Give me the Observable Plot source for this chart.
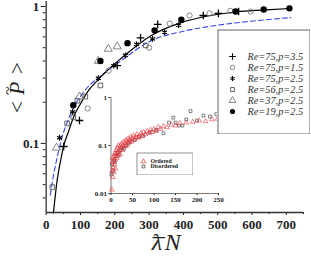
<!DOCTYPE html>
<html><head><meta charset="utf-8">
<script src="https://cdn.jsdelivr.net/npm/d3@7"></script>
<script src="https://cdn.jsdelivr.net/npm/@observablehq/plot@0.6"></script>
<style>
body{margin:0;background:#fff;}
#wrap{position:relative;width:311px;height:263px;overflow:hidden;}
#wrap svg{position:absolute;max-width:none;}
</style></head><body><div id="wrap"></div>
<script>
// ---------- main chart data: [lambdaN, <P>] ----------
const re75p35 = [[51,0.095],[97,0.147],[207,0.37],[275,0.59],[325,0.74],[458,0.86],[502,0.89],[561,0.92]];
const re75p15 = [[121,0.18],[182,0.34],[300,0.50],[360,0.75],[418,0.86],[476,0.89],[537,0.93],[596,0.92]];
const re75p25 = [[39,0.11],[77,0.17],[152,0.30],[197,0.37],[231,0.44],[263,0.53],[310,0.58],[345,0.65],[386,0.73]];
const re56p25 = [[18,0.048],[61,0.14],[79,0.155],[91,0.205],[114,0.22],[158,0.265],[290,0.52]];
const re37p25 = [[30,0.093],[97,0.22],[152,0.40],[181,0.49],[207,0.51]];
const re19p25 = [[79,0.19],[158,0.40],[237,0.54],[316,0.67],[394,0.80],[552,0.92],[634,0.95],[709,0.97]];
const fitSolid = [[21,0.031],[32,0.054],[42,0.075],[51,0.096],[66,0.124],[80,0.156],[100,0.195],[120,0.237],[149,0.288],[178,0.341],[217,0.415],[304,0.61],[391,0.76],[479,0.86],[566,0.92],[654,0.95],[709,0.967]];
const fitDashed = [[12,0.042],[22,0.06],[32,0.079],[46,0.111],[61,0.142],[80,0.183],[105,0.23],[129,0.27],[158,0.31],[217,0.40],[304,0.56],[400,0.66],[499,0.73],[596,0.78],[713,0.83]];
const xTicks = [0,100,200,300,400,500,600,700];
const xMinor = [50,150,250,350,450,550,650,750];
const yTicks = [0.1,1];
const yMinor = [0.04,0.05,0.06,0.07,0.08,0.09,0.2,0.3,0.4,0.5,0.6,0.7,0.8,0.9];
const legendLabels = ["Re=75,p=3.5","Re=75,p=1.5","Re=75,p=2.5","Re=56,p=2.5","Re=37,p=2.5","Re=19,p=2.5"];

// ---------- inset data ----------
const ordered = [[2,0.012],[3,0.03],[3,0.045],[4,0.022],[4,0.055],[5,0.035],[6,0.028],[6,0.048],[7,0.06],[8,0.04],[9,0.07],[10,0.05],[10,0.033],[11,0.065],[12,0.08],[13,0.055],[14,0.07],[15,0.09],[16,0.06],[17,0.1],[18,0.075],[20,0.085],[21,0.065],[22,0.1],[24,0.09],[25,0.11],[27,0.08],[28,0.1],[30,0.12],[32,0.095],[33,0.11],[35,0.13],[37,0.1],[38,0.12],[40,0.14],[42,0.115],[44,0.13],[46,0.15],[48,0.12],[50,0.14],[52,0.16],[55,0.135],[58,0.15],[60,0.17],[63,0.145],[66,0.16],[70,0.18],[73,0.155],[76,0.19],[80,0.17],[84,0.2],[88,0.18],[92,0.21],[96,0.19],[100,0.22],[105,0.2],[110,0.24],[115,0.22],[122,0.25],[130,0.24],[140,0.27],[150,0.26],[160,0.29],[175,0.3],[190,0.31],[205,0.33],[220,0.32],[235,0.35],[248,0.36]];
const disordered = [[1,0.025],[3,0.04],[5,0.03],[7,0.05],[9,0.045],[12,0.06],[15,0.07],[18,0.065],[22,0.08],[26,0.09],[30,0.085],[35,0.1],[40,0.11],[45,0.12],[55,0.13],[65,0.15],[75,0.16],[90,0.19],[105,0.21],[122,0.18],[135,0.3],[145,0.38],[150,0.3],[158,0.26],[166,0.26],[175,0.35],[185,0.52],[200,0.33],[215,0.42],[230,0.4],[245,0.45]];
const insetXTicks = [0,50,100,150,200,250];
const insetYTicks = [0.01,0.1,1];
const insetLabels = ["Ordered","Disordered"];

const SERIF = "Liberation Serif, Times New Roman, serif";
const X = d => d[0], Y = d => d[1];
const GRAY = "#777";
const wrap = document.getElementById("wrap");

function place(svg, left, top){ svg.style.left = left + "px"; svg.style.top = top + "px"; wrap.appendChild(svg); }

// ---------- main ----------
const yMin = 0.0313;
const main = Plot.plot({
  width: 311, height: 263,
  marginLeft: 45.7, marginRight: 8, marginTop: 1, marginBottom: 51,
  style: {fontFamily: SERIF, background: "transparent", color: "#222"},
  x: {domain: [0, 750]},
  y: {type: "log", domain: [yMin, 1.088]},
  marks: [
    Plot.axisX({ticks: xTicks, tickSize: 3, tickPadding: 4, fontSize: 13, fontWeight: "bold", label: null, tickFormat: d => String(d)}),
    Plot.axisX({ticks: xMinor, tickSize: 2, label: null, tickFormat: () => ""}),
    Plot.axisY({ticks: yTicks, tickSize: 5, tickPadding: 2, fontSize: 13, fontWeight: "bold", label: null, tickFormat: d => String(d)}),
    Plot.axisY({ticks: yMinor, tickSize: 3, label: null, tickFormat: () => ""}),
    Plot.ruleX([0], {stroke: "#333", strokeWidth: 1.3}),
    Plot.ruleY([yMin], {stroke: "#333", strokeWidth: 1.3}),
    Plot.line(fitDashed, {x: X, y: Y, curve: "monotone-x", stroke: "#3a46e8", strokeWidth: 1.1, strokeDasharray: "5,3"}),
    Plot.line(fitSolid, {x: X, y: Y, curve: "monotone-x", stroke: "#000", strokeWidth: 1.2}),
    Plot.dot(re75p15, {x: X, y: Y, symbol: "circle", r: 2.6, stroke: GRAY, fill: "none", strokeWidth: 0.9}),
    Plot.dot(re56p25, {x: X, y: Y, symbol: "square", r: 2.6, stroke: "#555", fill: "none", strokeWidth: 0.9}),
    Plot.dot(re37p25, {x: X, y: Y, symbol: "triangle", r: 3, stroke: GRAY, fill: "none", strokeWidth: 0.9}),
    Plot.dot(re75p35, {x: X, y: Y, symbol: "plus", r: 2.6, stroke: "#000", strokeWidth: 1.3}),
    Plot.dot(re75p25, {x: X, y: Y, symbol: "asterisk", r: 2.7, stroke: "#000", strokeWidth: 1.2}),
    Plot.dot(re19p25, {x: X, y: Y, symbol: "circle", r: 3.2, fill: "#000", stroke: "none"}),
    // y title  < P~ >
    Plot.text(["<"], {frameAnchor: "left", dx: -29, dy: 6, rotate: -90, fontSize: 21}),
    Plot.text(["P"], {frameAnchor: "left", dx: -29, dy: -12, rotate: -90, fontSize: 22, fontStyle: "italic"}),
    Plot.text(["~"], {frameAnchor: "left", dx: -38, dy: -12, rotate: -90, fontSize: 16}),
    Plot.text([">"], {frameAnchor: "left", dx: -29, dy: -33, rotate: -90, fontSize: 21}),
    // x title  (lambda with overbar, N)
    Plot.text(["\u03BB"], {frameAnchor: "bottom", dx: -18, dy: 37, fontSize: 24, fontStyle: "italic"}),
    Plot.text(["\u00AF"], {frameAnchor: "bottom", dx: -16, dy: 42, fontSize: 24}),
    Plot.text(["N"], {frameAnchor: "bottom", dx: -2, dy: 37, fontSize: 24, fontStyle: "italic"})
  ]
});
place(main, 0, 0);

// ---------- inset ----------
const inset = Plot.plot({
  width: 140, height: 122,
  marginLeft: 25.5, marginRight: 7, marginTop: 9, marginBottom: 17,
  style: {fontFamily: SERIF, background: "transparent", color: "#222"},
  x: {domain: [0, 250]},
  y: {type: "log", domain: [0.01, 1]},
  marks: [
    Plot.axisX({ticks: insetXTicks, tickSize: 2, tickPadding: 2, fontSize: 7, fontWeight: "bold", label: null, tickFormat: d => String(d)}),
    Plot.axisY({ticks: insetYTicks, tickSize: 2, tickPadding: 2, fontSize: 7, fontWeight: "bold", label: null, tickFormat: d => String(d)}),
    Plot.ruleX([0], {stroke: "#555", strokeWidth: 0.8}),
    Plot.ruleY([0.01], {stroke: "#555", strokeWidth: 0.8}),
    Plot.dot(disordered, {x: X, y: Y, symbol: "square", r: 1.6, stroke: "#333", fill: "none", strokeWidth: 0.6}),
    Plot.dot(ordered, {x: X, y: Y, symbol: "triangle", r: 1.8, stroke: "#e8363c", fill: "none", strokeWidth: 0.6})
  ]
});
place(inset, 85, 88);

// ---------- inset legend ----------
const insetLegend = Plot.plot({
  width: 57, height: 23, margin: 0,
  style: {fontFamily: SERIF, background: "white", color: "#222"},
  x: {domain: [0, 1], range: [7, 14], axis: null},
  y: {type: "point", domain: insetLabels, range: [6.5, 16.5], axis: null},
  marks: [
    Plot.frame({stroke: "#777", strokeWidth: 0.8, inset: 0.5}),
    Plot.dot(insetLabels.slice(0,1), {x: 0, y: d => d, symbol: "triangle", r: 1.8, stroke: "#e8363c", strokeWidth: 0.7}),
    Plot.dot(insetLabels.slice(1), {x: 0, y: d => d, symbol: "square", r: 1.6, stroke: "#333", strokeWidth: 0.7}),
    Plot.text(insetLabels, {x: 1, y: d => d, text: d => d, textAnchor: "start", fontSize: 5.8, fontWeight: "bold"})
  ]
});
place(insetLegend, 136, 152);

// ---------- main legend ----------
const legendSpecs = [
  {symbol: "plus", r: 2.3, stroke: "#000", fill: "none", sw: 1.1},
  {symbol: "circle", r: 2.2, stroke: GRAY, fill: "none", sw: 0.9},
  {symbol: "asterisk", r: 2.4, stroke: "#000", fill: "none", sw: 1},
  {symbol: "square", r: 2.2, stroke: "#555", fill: "none", sw: 0.9},
  {symbol: "triangle", r: 2.5, stroke: GRAY, fill: "none", sw: 0.9},
  {symbol: "circle", r: 2.6, stroke: "none", fill: "#000", sw: 0}
];
const legend = Plot.plot({
  width: 93, height: 105, margin: 0,
  style: {fontFamily: SERIF, background: "white", color: "#333"},
  x: {domain: [0, 1], range: [15, 30], axis: null},
  y: {type: "point", domain: legendLabels, range: [19, 89], axis: null},
  marks: [
    Plot.frame({stroke: "#666", strokeWidth: 1, inset: 0.5}),
    ...legendLabels.map((lab, i) => Plot.dot([lab], {x: 0, y: d => d, symbol: legendSpecs[i].symbol, r: legendSpecs[i].r, stroke: legendSpecs[i].stroke, fill: legendSpecs[i].fill, strokeWidth: legendSpecs[i].sw})),
    Plot.text(legendLabels, {x: 1, y: d => d, text: d => d, textAnchor: "start", fontSize: 10.3, fontStyle: "italic", fill: "#333"})
  ]
});
place(legend, 217, 29);
</script></body></html>
